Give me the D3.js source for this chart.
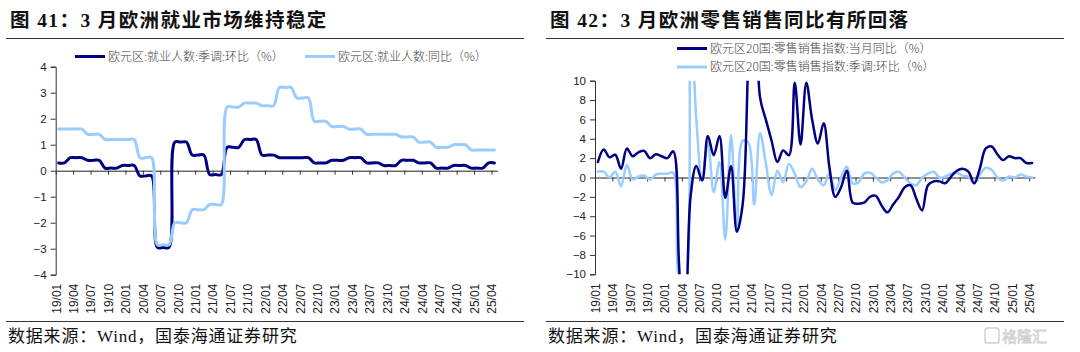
<!DOCTYPE html>
<html><head><meta charset="utf-8">
<script src="https://cdn.jsdelivr.net/npm/d3@7/dist/d3.min.js"></script>
<style>
body{margin:0;background:#fff}
svg{display:block}
.tick text{font-family:"Liberation Sans",Arial,sans-serif;fill:#222}
</style>
</head><body><svg id="c" width="1080" height="352"></svg>
<script>
// ---------- DATA ----------
const tickLabels = ["19/01","19/04","19/07","19/10","20/01","20/04","20/07","20/10","21/01","21/04","21/07","21/10","22/01","22/04","22/07","22/10","23/01","23/04","23/07","23/10","24/01","24/04","24/07","24/10","25/01","25/04"];
// monthly categories 19/01 .. 25/04 (76 months)
const months = [];
for (let y = 19; y <= 25; y++) for (let m = 1; m <= 12; m++) { if (y === 25 && m > 4) break; months.push(y + "/" + String(m).padStart(2, "0")); }

// Figure 41: euro area employment (%), quarterly values shown monthly
const empQoQ = [0.3,0.3, 0.5,0.5,0.5, 0.4,0.4,0.4, 0.1,0.1,0.1, 0.2,0.2,0.2, -0.2,-0.2,-0.2, -2.95,-2.95,-2.95,
  1.1,1.1,1.1, 0.6,0.6,0.6, -0.15,-0.15,-0.15, 0.9,0.9,0.9, 1.2,1.2,1.2, 0.6,0.6,0.6, 0.5,0.5,0.5, 0.5,0.5,0.5,
  0.3,0.3,0.3, 0.4,0.4,0.4, 0.5,0.5,0.5, 0.3,0.3,0.3, 0.2,0.2,0.2, 0.4,0.4,0.4, 0.3,0.3,0.3, 0.1,0.1,0.1,
  0.2,0.2,0.2, 0.1,0.1,0.1, 0.3,0.3];
const empYoY = [1.6,1.6, 1.6,1.6,1.6, 1.4,1.4,1.4, 1.2,1.2,1.2, 1.2,1.2,1.2, 0.5,0.5,0.5, -2.85,-2.85,-2.85,
  -2.0,-2.0,-2.0, -1.5,-1.5,-1.5, -1.3,-1.3,-1.3, 2.45,2.45,2.45, 2.6,2.6,2.6, 2.5,2.5,2.5, 3.2,3.2,3.2, 2.8,2.8,2.8,
  1.9,1.9,1.9, 1.7,1.7,1.7, 1.6,1.6,1.6, 1.4,1.4,1.4, 1.4,1.4,1.4, 1.3,1.3,1.3, 1.1,1.1,1.1, 0.9,0.9,0.9,
  1.0,1.0,1.0, 0.8,0.8,0.8, 0.8,0.8];
const empNames = ["欧元区:就业人数:季调:环比（%）", "欧元区:就业人数:同比（%）"];

// Figure 42: euro area 20 retail sales (%)
const retailYoY = [1.6,2.9,2.1,2.35,0.9,3.0,2.2,2.6,2.75,2.0,2.4,2.2,2.0,2.7,-8.8,-19.5,-2.0,1.2,-0.3,4.3,
  2.3,4.3,-2.1,1.2,-5.6,-2.8,12.5,24.0,8.3,6.0,3.8,1.6,2.8,2.3,9.8,3.4,9.8,6.0,3.5,5.6,
  1.0,-2.0,-1.0,0.7,-2.6,-2.7,-2.6,-2.0,-1.9,-2.9,-3.6,-2.8,-2.0,-1.0,-0.8,-2.2,-3.4,-0.8,-0.4,-0.4,
  -0.6,0.1,0.7,0.9,0.6,-0.6,1.0,3.0,3.2,2.4,1.8,2.2,2.0,2.0,1.5,1.5];
const retailMoM = [0.6,0.6,0.0,0.6,-0.9,1.3,-0.2,0.1,0.2,-0.2,0.3,0.4,0.4,0.5,-10.5,-11.5,18.0,6.0,-0.3,3.7,
  -1.5,1.6,-6.4,4.4,-5.6,3.8,3.6,-2.8,4.6,1.5,-1.8,0.7,-0.5,1.4,0.4,-1.0,-0.4,0.9,-0.2,-0.8,
  0.5,-1.3,0.0,1.1,-0.6,-0.5,0.4,0.5,0.0,-0.5,-0.3,0.4,0.6,0.0,-0.6,-0.8,0.0,0.4,0.6,0.0,
  0.1,0.4,0.5,0.2,0.1,-0.6,0.3,1.0,0.8,0.0,-0.3,0.1,0.0,0.3,0.1,0.0];
const retailNames = ["欧元区20国:零售销售指数:当月同比（%）", "欧元区20国:零售销售指数:季调:环比（%）"];

const titles = ["图 41：3 月欧洲就业市场维持稳定", "图 42：3 月欧洲零售销售同比有所回落"];
const sourceText = "数据来源：Wind，国泰海通证券研究";
const DARK = "#000080", LIGHT = "#99CCFF";

// ---------- DRAW ----------
const svg = d3.select("#c");
const cjk = '"Liberation Serif","Noto Sans CJK SC",serif';
const sans = '"Noto Sans CJK SC",sans-serif';

function panel(cfg) {
  const g = svg.append("g");
  // title & rules
  g.append("text").attr("x", cfg.ox + 10).attr("y", 26.5).text(cfg.title)
    .attr("font-family", cjk).attr("font-weight", 700).attr("font-size", 19.5).attr("fill", "#111")
    .attr("letter-spacing", 1.4);
  g.append("line").attr("x1", cfg.ox + 6).attr("x2", cfg.ox + 524).attr("y1", 38.5).attr("y2", 38.5).attr("stroke", "#333").attr("stroke-width", 1.2);
  g.append("line").attr("x1", cfg.ox + 6).attr("x2", cfg.ox + 524).attr("y1", 321.5).attr("y2", 321.5).attr("stroke", "#333").attr("stroke-width", 1.2);
  g.append("text").attr("x", cfg.ox + 8).attr("y", 342).text(sourceText)
    .attr("font-family", cjk).attr("font-size", 17).attr("fill", "#111").attr("letter-spacing", 0.8);

  const n = months.length;
  const xi = d3.scaleLinear().domain([0, n]).range([cfg.x0, cfg.x1]);
  const y = d3.scaleLinear().domain(cfg.domain).range([cfg.yBot, cfg.yTop]);

  // y axis
  const ya = g.append("g").attr("transform", `translate(${cfg.x0},0)`)
    .call(d3.axisLeft(y).tickValues(cfg.yTicks).tickSize(5).tickPadding(4).tickFormat(d3.format("d")));
  ya.selectAll("path,line").attr("stroke", "#333");
  ya.selectAll("text").attr("font-size", 11.5);

  // zero line with ticks
  const tickIdx = tickLabels.map((_, i) => i * 3);
  const za = g.append("g").attr("transform", `translate(0,${y(0)})`)
    .call(d3.axisBottom(xi).tickValues(tickIdx).tickSize(4).tickSizeOuter(0).tickFormat(""));
  za.select(".domain").attr("stroke", "#222");
  za.selectAll(".tick line").attr("stroke", "#333");

  // bottom labels (rotated)
  const la = g.append("g").attr("transform", `translate(0,${cfg.yBot + 8})`)
    .call(d3.axisBottom(xi).tickValues(tickIdx).tickSize(0).tickFormat((d, i) => tickLabels[i]));
  la.select(".domain").remove();
  la.selectAll("text").attr("font-size", 12).attr("transform", "rotate(-90)")
    .attr("text-anchor", "end").attr("dx", 0).attr("dy", "0.36em").attr("x", -1).attr("y", 0);

  // clip
  const cid = "clip" + cfg.ox;
  svg.append("clipPath").attr("id", cid).append("rect")
    .attr("x", cfg.x0).attr("y", cfg.yTop).attr("width", cfg.x1 - cfg.x0).attr("height", cfg.yBot - cfg.yTop);

  const line = d3.line().x((d, i) => xi(i + 0.5)).y(d => y(d)).curve(d3.curveCatmullRom.alpha(0.5));
  cfg.series.forEach(s => {
    g.append("path").attr("clip-path", `url(#${cid})`).attr("d", line(s.values))
      .attr("fill", "none").attr("stroke", s.color).attr("stroke-width", s.width)
      .attr("stroke-linejoin", "round").attr("stroke-linecap", "round");
  });

  // legend
  cfg.legend.forEach(l => {
    g.append("line").attr("x1", l.x).attr("x2", l.x + 30).attr("y1", l.y).attr("y2", l.y)
      .attr("stroke", l.color).attr("stroke-width", 3);
    g.append("text").attr("x", l.x + 33).attr("y", l.y).attr("dy", "0.36em").text(l.name)
      .attr("font-family", sans).attr("font-size", 12).attr("fill", "#444").attr("font-weight", 300);
  });
}

panel({
  ox: 0, title: titles[0], x0: 55.7, x1: 497.3, yTop: 66.7, yBot: 274.7, domain: [-4, 4],
  yTicks: [-4,-3,-2,-1,0,1,2,3,4],
  series: [{values: empQoQ, color: DARK, width: 3}, {values: empYoY, color: LIGHT, width: 3}],
  legend: [{x: 75, y: 56.5, color: DARK, name: empNames[0]}, {x: 305, y: 56.5, color: LIGHT, name: empNames[1]}]
});
panel({
  ox: 540, title: titles[1], x0: 595, x1: 1035, yTop: 80.7, yBot: 274.3, domain: [-10, 10],
  yTicks: [-10,-8,-6,-4,-2,0,2,4,6,8,10],
  series: [{values: retailMoM, color: LIGHT, width: 2.5}, {values: retailYoY, color: DARK, width: 2.5}],
  legend: [{x: 677, y: 48.5, color: DARK, name: retailNames[0]}, {x: 677, y: 67, color: LIGHT, name: retailNames[1]}]
});

// watermark
const wm = svg.append("g").attr("opacity", 0.55);
wm.append("rect").attr("x", 985).attr("y", 328).attr("width", 14).attr("height", 15).attr("rx", 3)
  .attr("fill", "none").attr("stroke", "#aaa").attr("stroke-width", 1.5);
wm.append("text").attr("x", 1002).attr("y", 342).text("格隆汇").attr("font-family", sans)
  .attr("font-size", 15).attr("fill", "none").attr("stroke", "#aaa").attr("stroke-width", 0.8);
</script>
</body></html>
